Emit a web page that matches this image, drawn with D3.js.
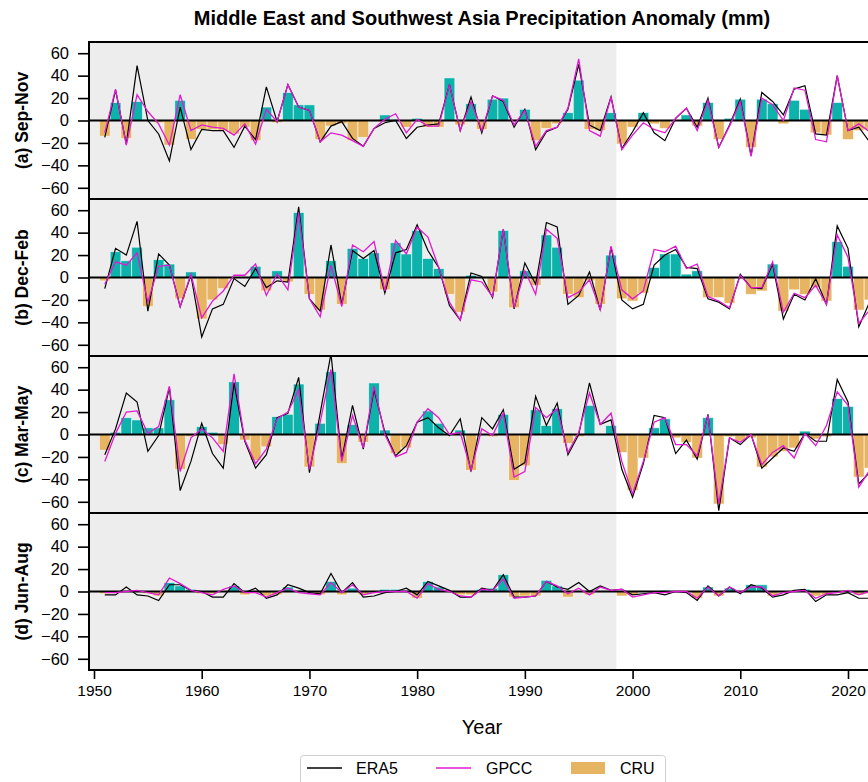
<!DOCTYPE html>
<html><head><meta charset="utf-8">
<script src="https://cdn.jsdelivr.net/npm/d3@7"></script>
<style>body{margin:0;background:#fff;overflow:hidden;} svg{display:block;font-family:"Liberation Sans",Arial,sans-serif;}</style>
</head><body><svg id="c" width="868" height="782"></svg>
<script>
const years = d3.range(1951, 2023);
const seasonLabels = ["(a) Sep-Nov", "(b) Dec-Feb", "(c) Mar-May", "(d) Jun-Aug"];
const yTicks = [-60, -40, -20, 0, 20, 40, 60];
const xTicks = [1950, 1960, 1970, 1980, 1990, 2000, 2010, 2020];
const legendLabels = ["ERA5", "GPCC", "CRU"];

const era5_son = [-15,27,-21,49,0,-12,-36,12,-26,-8, -9,-9,-24,-5,-17,30,-1,32,12,9, -19,-5,-1,-16,-23,-7,-2,0,-16,-6, -4,-3,32,-9,21,-11,22,17,-6,10, -26,-10,-6,10,50,-4,-9,21,-25,-10, 7,-11,-18,2,11,-6,20,-24,-4,19, -31,25,17,5,28,31,-12,-13,40,-9, -6,-19];
const gpcc_son = [-11,28,-22,23,8,-3,-22,23,-9,-4, -6,-7,-13,-3,-21,10,-1,32,12,9, -19,-11,-13,-18,-23,-7,1,6,-11,1, -5,-5,32,-9,17,-9,22,18,-4,9, -23,-9,-6,11,55,-9,-14,21,-26,-13, -2,-8,-11,2,11,-9,18,-24,-5,17, -32,20,14,0,29,27,-17,-19,40,-9, -3,-10];
const cru_son = [-14,16,-16,17,1,-2,-22,18,-17,-8, -8,-9,-12,-6,-18,12,-2,25,14,14, -17,-5,-3,-18,-15,-1,5,1,-6,2, -6,-6,38,-4,15,-8,19,20,-1,10, -18,-7,-3,7,36,-8,-9,7,-21,-6, 7,-3,-7,0,5,-5,16,-17,2,19, -24,19,15,-3,18,10,-11,-13,16,-17, -9,-8];

const era5_djf = [-10,26,20,50,-30,21,11,-26,2,-53, -28,-24,-1,-8,8,-9,-3,-4,63,-19, -30,29,-24,24,17,24,-14,22,25,47, 24,9,-25,-38,4,1,-18,43,-28,13, -6,49,45,-24,-16,5,-29,27,-20,-28, -24,11,20,25,9,8,-19,-22,-28,3, -9,-10,12,-37,-15,-20,-1,-24,46,26, -44,-22];
const gpcc_djf = [-6,14,11,22,-22,10,11,-26,3,-36, -21,-12,2,2,12,-16,3,-11,58,-19, -35,11,-26,29,23,32,-12,33,21,45, 36,9,-22,-38,-2,-4,-17,43,-27,6, -15,43,35,-18,-13,-2,-29,28,-11,-19, -12,25,23,28,8,12,-17,-21,-27,2, -9,-9,14,-31,-14,-18,-7,-24,38,18, -41,-29];
const cru_djf = [-3,23,15,27,-26,16,12,-19,5,-37, -20,-10,-1,0,10,-12,6,-4,58,-15, -29,15,-24,26,17,22,-11,31,21,42, 17,8,-15,-31,2,-1,-13,42,-27,6, -7,38,27,-15,-18,-3,-24,20,-19,-21, -14,9,21,21,3,6,-18,-18,-23,-1, -15,-12,12,-30,-11,-15,-9,-21,32,10, -29,-20];

const era5_mam = [-18,5,37,29,-15,-1,42,-50,-24,10, -17,-30,46,-6,-30,-18,15,19,51,-34, 19,72,-22,26,-13,40,2,-19,-10,11, 15,6,-1,14,-33,15,5,22,-31,-25, 34,8,28,-18,0,46,9,13,-31,-56, -26,17,15,-17,-5,-22,18,-68,-3,-9, 0,-30,-21,-12,-15,1,-6,-6,49,29, -44,-34];
const gpcc_mam = [-24,1,20,21,1,7,43,-33,-3,5, -3,-15,54,-5,-26,-13,14,20,40,-31, 11,58,-24,17,-12,43,0,-20,-16,11, 23,15,0,2,-32,5,-1,19,-38,-33, 24,15,23,-16,2,37,9,19,-24,-53, -24,11,15,-9,-9,-19,17,-62,-3,-7, 0,-27,-16,-10,-21,1,-10,8,38,26, -47,-32];
const cru_mam = [-14,2,15,13,6,6,31,-31,-2,7, 2,-9,47,-5,-23,-11,16,18,45,-29, 10,56,-26,9,-7,46,4,-17,-12,1, 21,10,1,4,-32,0,-2,18,-41,-28, 22,8,23,-8,-2,26,0,8,-16,-50, -21,6,14,-3,-7,-21,15,-62,-2,-6, -3,-29,-20,-15,-12,3,-4,-2,32,25, -38,-30];

const era5_jja = [-3,-3,4,-3,-4,-8,6,6,1,0, -5,-5,7,-1,3,-6,-3,6,3,-1, -2,16,-1,8,-5,-4,-1,0,3,-3, 9,5,1,-5,-5,3,1,15,-5,-5, -4,9,4,2,8,0,5,1,2,-3, -2,-1,-3,0,-1,-8,5,-4,4,-2, 6,3,-5,-3,1,2,-9,-3,-3,-1, -6,-6];
const gpcc_jja = [-1,-1,0,1,-1,-3,12,7,1,-1, -3,2,5,-1,-1,-5,-1,3,-1,-2, -3,8,-1,6,-3,-1,0,0,0,-6, 7,2,0,-4,-5,2,1,11,-6,-5, -4,9,5,-2,3,-3,4,1,2,-5, -3,-1,-1,0,0,-6,4,-4,4,-1, 4,4,-4,-1,0,1,-6,-2,-1,1, -3,0];
const cru_jja = [-2,-1,0,1,-2,-4,8,5,2,-2, -2,0,5,-3,0,-4,-3,4,1,0, -3,9,-3,3,-3,0,2,2,1,-6, 9,4,0,-3,-3,2,3,15,-5,-4, -4,10,5,-5,0,-3,0,0,-4,-3, 0,0,1,0,0,-6,4,-4,3,0, 6,6,-4,-1,0,2,-4,-3,-1,1, -3,-2];

const panels = [
  {label: seasonLabels[0], era5: era5_son, gpcc: gpcc_son, cru: cru_son},
  {label: seasonLabels[1], era5: era5_djf, gpcc: gpcc_djf, cru: cru_djf},
  {label: seasonLabels[2], era5: era5_mam, gpcc: gpcc_mam, cru: cru_mam},
  {label: seasonLabels[3], era5: era5_jja, gpcc: gpcc_jja, cru: cru_jja}
];

const svg = d3.select("#c");
const left = 89, right = 900, top0 = 42, ph = 157;
const x = d3.scaleLinear().domain([1950, 2020]).range([94, 848]);
const bw = x(1951) - x(1950);
const colTeal = "#0db3ab", colTan = "#e6b462", colMag = "#e01ad0";
const FF = "Liberation Sans, Arial, sans-serif";

svg.append("text").attr("x", 482).attr("y", 25).attr("text-anchor", "middle")
  .attr("font-size", 20).attr("font-weight", "bold").text("Middle East and Southwest Asia Precipitation Anomaly (mm)");

const defs = svg.append("defs");

panels.forEach((p, i) => {
  const top = top0 + i * ph;
  const y = d3.scaleLinear().domain([-70, 70]).range([top + ph, top]);
  const g = svg.append("g");
  const cid = "clip" + i;
  defs.append("clipPath").attr("id", cid).append("rect")
    .attr("x", left).attr("y", top).attr("width", right - left).attr("height", ph);
  g.append("rect").attr("x", left).attr("y", top).attr("width", x(1998.5) - left).attr("height", ph).attr("fill", "#ededed");
  const inner = g.append("g").attr("clip-path", `url(#${cid})`);
  const data = years.map((yr, k) => ({yr, e: p.era5[k], gp: p.gpcc[k], c: p.cru[k]}));
  inner.selectAll("rect.bar").data(data).join("rect").attr("class", "bar")
    .attr("x", d => x(d.yr) - bw / 2).attr("width", bw)
    .attr("y", d => y(Math.max(0, d.c))).attr("height", d => Math.abs(y(d.c) - y(0)))
    .attr("fill", d => d.c >= 0 ? colTeal : colTan)
    .attr("stroke", "#fff").attr("stroke-opacity", 0.7).attr("stroke-width", 0.8);
  inner.append("line").attr("x1", left).attr("x2", right).attr("y1", y(0)).attr("y2", y(0))
    .attr("stroke", "#000").attr("stroke-width", 2);
  inner.append("path").datum(data).attr("fill", "none").attr("stroke", "#000").attr("stroke-width", 1.2)
    .attr("d", d3.line().x(d => x(d.yr)).y(d => y(d.e)));
  inner.append("path").datum(data).attr("fill", "none").attr("stroke", colMag).attr("stroke-width", 1.3)
    .attr("d", d3.line().x(d => x(d.yr)).y(d => y(d.gp)));
  g.append("rect").attr("x", left).attr("y", top).attr("width", right - left).attr("height", ph)
    .attr("fill", "none").attr("stroke", "#000").attr("stroke-width", 2);
  const ax = g.append("g").attr("transform", `translate(${left},0)`)
    .call(d3.axisLeft(y).tickValues(yTicks).tickSize(11).tickPadding(9));
  ax.select(".domain").remove();
  ax.selectAll("line").attr("stroke-width", 1.6);
  ax.selectAll("text").attr("font-size", 16.5).attr("font-family", FF).attr("fill", "#000");
  svg.append("text").attr("transform", `translate(28,${top + ph / 2}) rotate(-90)`)
    .attr("text-anchor", "middle").attr("font-size", 17.5).attr("font-weight", "bold").text(p.label);
});

const xb = top0 + 4 * ph;
const xa = svg.append("g").attr("transform", `translate(0,${xb})`)
  .call(d3.axisBottom(x).tickValues(xTicks).tickFormat(d3.format("d")).tickSize(9).tickPadding(6));
xa.select(".domain").remove();
xa.selectAll("line").attr("stroke-width", 1.6);
xa.selectAll("text").attr("font-size", 15.5).attr("font-family", FF).attr("fill", "#000");

svg.append("text").attr("x", 482).attr("y", 734).attr("text-anchor", "middle").attr("font-size", 20).text("Year");

const lg = svg.append("g");
lg.append("rect").attr("x", 300.5).attr("y", 755.5).attr("width", 365).attr("height", 40).attr("rx", 3)
  .attr("fill", "#fff").attr("stroke", "#d0d0d0");
const ly = 768;
lg.append("line").attr("x1", 307).attr("x2", 342).attr("y1", ly).attr("y2", ly).attr("stroke", "#000").attr("stroke-width", 1.5);
lg.append("text").attr("x", 356).attr("y", ly + 6).attr("font-size", 16).text(legendLabels[0]);
lg.append("line").attr("x1", 436).attr("x2", 471).attr("y1", ly).attr("y2", ly).attr("stroke", colMag).attr("stroke-width", 1.5);
lg.append("text").attr("x", 486).attr("y", ly + 6).attr("font-size", 16).text(legendLabels[1]);
lg.append("rect").attr("x", 571).attr("y", ly - 6).attr("width", 34).attr("height", 12).attr("fill", colTan);
lg.append("text").attr("x", 620).attr("y", ly + 6).attr("font-size", 16).text(legendLabels[2]);
</script></body></html>
